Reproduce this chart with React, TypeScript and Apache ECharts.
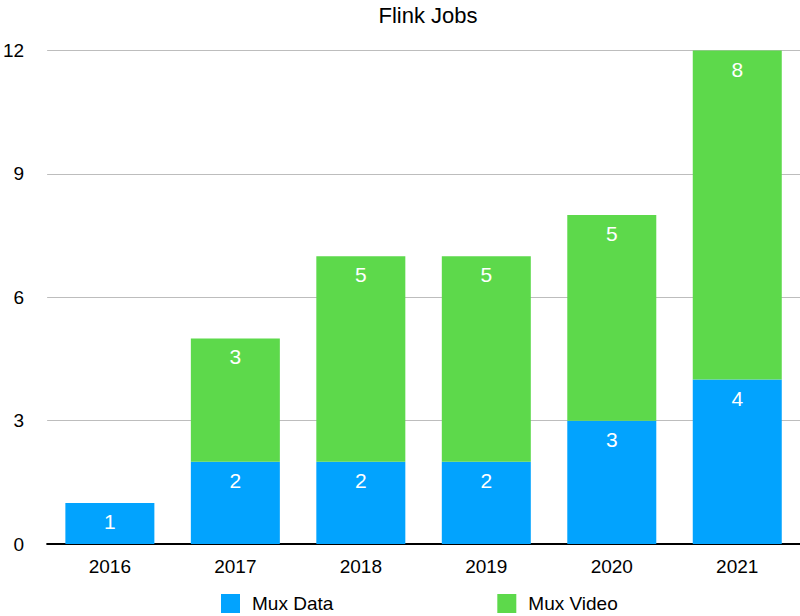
import { useRef, useEffect } from 'react'
import * as echarts from 'echarts'

const YEARS = ['2016', '2017', '2018', '2019', '2020', '2021']
const MUX_DATA = [1, 2, 2, 2, 3, 4]
const MUX_VIDEO: (number | null)[] = [null, 3, 5, 5, 5, 8]

const BLUE = '#02A3FE'
const GREEN = '#5DD94B'
const FONT = '"Liberation Sans", Helvetica, Arial, sans-serif'

function buildOption(): echarts.EChartsOption {
  const valueLabel = {
    show: true,
    position: 'insideTop' as const,
    distance: 8,
    color: '#fff',
    fontSize: 21,
    fontFamily: FONT,
  }
  return {
    animation: false,
    backgroundColor: '#fff',
    title: {
      text: 'Flink Jobs',
      left: 423,
      top: -1,
      textAlign: 'center',
      textStyle: { fontSize: 22, fontWeight: 'normal', color: '#000', fontFamily: FONT },
    },
    grid: { left: 45.5, top: 50.5, width: 756, height: 493.5, containLabel: false },
    legend: {
      left: 216,
      top: 589,
      itemWidth: 19,
      itemHeight: 19,
      itemGap: 164,
      icon: 'rect',
      textStyle: { fontSize: 19, lineHeight: 19, color: '#000', fontFamily: FONT, padding: [0, 0, 0, 7] },
      data: ['Mux Data', 'Mux Video'],
    },
    xAxis: {
      type: 'category',
      data: YEARS,
      axisLine: { lineStyle: { color: '#000', width: 2 } },
      axisTick: { show: false },
      axisLabel: { fontSize: 19, color: '#000', fontFamily: FONT, margin: 13 },
    },
    yAxis: {
      type: 'value',
      min: 0,
      max: 12,
      interval: 3,
      axisLine: { show: false },
      axisTick: { show: false },
      axisLabel: { fontSize: 19, color: '#000', fontFamily: FONT, margin: 23 },
      splitLine: { lineStyle: { color: '#bdbdbd', width: 1 } },
    },
    series: [
      {
        name: 'Mux Data',
        type: 'bar',
        stack: 'jobs',
        barWidth: 89,
        data: MUX_DATA,
        itemStyle: { color: BLUE },
        label: valueLabel,
      },
      {
        name: 'Mux Video',
        type: 'bar',
        stack: 'jobs',
        barWidth: 89,
        data: MUX_VIDEO,
        itemStyle: { color: GREEN },
        label: valueLabel,
      },
    ],
  }
}

export default function App() {
  const containerRef = useRef<HTMLDivElement>(null)

  useEffect(() => {
    const el = containerRef.current
    if (!el) return
    const chart = echarts.init(el, null, { renderer: 'svg' })
    chart.setOption(buildOption())
    return () => chart.dispose()
  }, [])

  return (
    <div
      ref={containerRef}
      style={{ position: 'fixed', left: 0, top: 0, width: 800, height: 616, background: '#fff' }}
    />
  )
}
